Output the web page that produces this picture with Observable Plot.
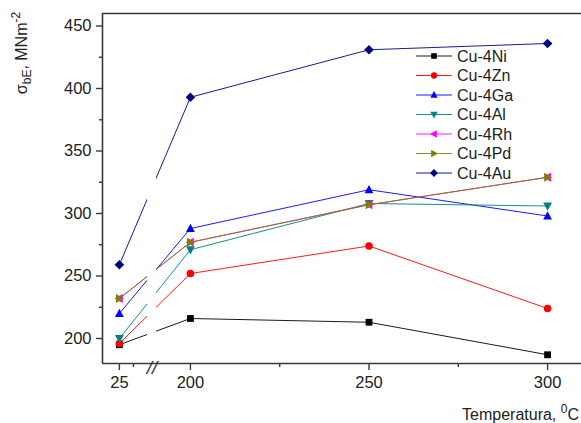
<!DOCTYPE html>
<html>
<head>
<meta charset="utf-8">
<script src="https://cdn.jsdelivr.net/npm/d3@7"></script>
<script src="https://cdn.jsdelivr.net/npm/@observablehq/plot@0.6"></script>
<style>
  html, body { margin: 0; padding: 0; background: #fff; }
  #chart { position: relative; width: 581px; height: 423px; overflow: hidden; }
  svg { font-family: "Liberation Sans", Arial, sans-serif; }
</style>
</head>
<body>
<div id="chart"></div>
<script>
// ---- data ----
const temps = [25, 200, 250, 300];
const seriesNames = ["Cu-4Ni", "Cu-4Zn", "Cu-4Ga", "Cu-4Al", "Cu-4Rh", "Cu-4Pd", "Cu-4Au"];
const seriesColors = ["#000000", "#ff0000", "#0000ff", "#008080", "#ff00ff", "#808000", "#000080"];
const cuNi = [195, 216, 213, 187];
const cuZn = [196, 252, 274, 224];
const cuGa = [220, 288, 319, 298];
const cuAl = [200, 271, 308, 306];
const cuRh = [232, 277, 307, 329];
const cuPd = [232, 277, 307, 329];
const cuAu = [259, 393, 431, 436];
const xTicks = [25, 200, 250, 300];
const xMinorTicks = [37.5, 225, 275];
const yTicks = [200, 250, 300, 350, 400, 450];
const yMinorTicks = [225, 275, 325, 375, 425];
const axisBreak = [{from: 50, to: 190.5, mid: 120}];

const seriesValues = [cuNi, cuZn, cuGa, cuAl, cuRh, cuPd, cuAu];

// ---- custom marker symbols ----
const rad = size => Math.sqrt(size / Math.PI);
const symSquare = {draw(c, size) { const s = rad(size) * 0.85; c.rect(-s, -s, 2 * s, 2 * s); }};
const symCircle = {draw(c, size) { const r = rad(size) * 0.95; c.moveTo(r, 0); c.arc(0, 0, r, 0, 2 * Math.PI); }};
const symUp = {draw(c, size) { const r = rad(size); c.moveTo(0, -r * 1.2); c.lineTo(r * 1.1, r * 0.85); c.lineTo(-r * 1.1, r * 0.85); c.closePath(); }};
const symDown = {draw(c, size) { const r = rad(size); c.moveTo(0, r * 1.2); c.lineTo(r * 1.1, -r * 0.85); c.lineTo(-r * 1.1, -r * 0.85); c.closePath(); }};
const symLeft = {draw(c, size) { const r = rad(size); c.moveTo(-r * 1.2, 0); c.lineTo(r * 0.85, r * 1.1); c.lineTo(r * 0.85, -r * 1.1); c.closePath(); }};
const symRight = {draw(c, size) { const r = rad(size); c.moveTo(r * 1.2, 0); c.lineTo(-r * 0.85, r * 1.1); c.lineTo(-r * 0.85, -r * 1.1); c.closePath(); }};
const symDiamond = {draw(c, size) { const r = rad(size) * 1.2; c.moveTo(0, -r); c.lineTo(r, 0); c.lineTo(0, r); c.lineTo(-r, 0); c.closePath(); }};
const seriesSymbols = [symSquare, symCircle, symUp, symDown, symLeft, symRight, symDiamond];

const rows = [];
seriesNames.forEach((name, i) => {
  temps.forEach((t, j) => rows.push({series: name, temp: t, value: seriesValues[i][j]}));
});

const W = 581, H = 423;
const mL = 102, mT = 13, mB = 60, mR = 0;

const marks = [];
marks.push(Plot.line(rows, {x: "temp", y: "value", z: "series", stroke: "series", strokeWidth: 0.9}));
marks.push(Plot.rect(axisBreak, {x1: "from", x2: "to", y1: 180, y2: 460, fill: "white", insetTop: 2, insetBottom: 2}));
seriesNames.forEach((name, i) => {
  marks.push(Plot.dot(rows.filter(d => d.series === name), {
    x: "temp", y: "value", fill: seriesColors[i], stroke: "none", r: 4, symbol: seriesSymbols[i]
  }));
});
// frame (left, top, bottom)
marks.push(Plot.ruleY([180, 460], {stroke: "#3a3a3a", strokeWidth: 1.6}));
marks.push(Plot.ruleX([10], {stroke: "#3a3a3a", strokeWidth: 1.6}));
// axes
marks.push(Plot.axisX({ticks: xTicks, tickSize: 7, tickPadding: 6, fontSize: 16.5, label: null, stroke: "#3a3a3a", strokeWidth: 1.4, fill: "#222"}));
marks.push(Plot.axisX({ticks: xMinorTicks, tickSize: 4, tickFormat: () => "", label: null, stroke: "#3a3a3a", strokeWidth: 1.4}));
marks.push(Plot.axisY({ticks: yTicks, tickSize: 6, tickPadding: 5, fontSize: 16.5, label: null, stroke: "#3a3a3a", strokeWidth: 1.4, fill: "#222"}));
marks.push(Plot.axisY({ticks: yMinorTicks, tickSize: 3, tickFormat: () => "", label: null, stroke: "#3a3a3a", strokeWidth: 1.4}));
// axis break marks
marks.push(Plot.text(axisBreak, {x: "mid", y: 180, text: () => "//", fontSize: 19, fill: "#333", textAnchor: "middle", lineAnchor: "middle", dy: 4, fontStyle: "italic"}));

const chart = Plot.plot({
  width: W, height: H,
  marginLeft: mL, marginTop: mT, marginBottom: mB, marginRight: mR,
  style: {fontFamily: '"Liberation Sans", Arial, sans-serif', background: "white", color: "#222"},
  x: {type: "linear", domain: [10, 50, 190.5, 309.5], range: [mL, 147, 156, W - mR], axis: null},
  y: {domain: [180, 460], axis: null},
  color: {domain: seriesNames, range: seriesColors},
  marks
});
document.getElementById("chart").appendChild(chart);

// ---- legend and axis titles (SVG overlay inside plot) ----
const svg = d3.select(chart);
const leg = svg.append("g").attr("text-anchor", "start");
seriesNames.forEach((name, i) => {
  const y = 56 + i * 19.5;
  const g = leg.append("g").attr("transform", `translate(0,${y})`);
  g.append("line").attr("x1", 416).attr("x2", 452).attr("y1", 0).attr("y2", 0)
    .attr("stroke", seriesColors[i]).attr("stroke-width", 0.9);
  g.append("path").attr("transform", "translate(434,0)")
    .attr("d", d3.symbol(seriesSymbols[i], Math.PI * 3.3 * 3.3)())
    .attr("fill", seriesColors[i]);
  g.append("text").attr("x", 457).attr("y", 0).attr("dy", "0.35em")
    .attr("text-anchor", "start")
    .attr("font-size", 16).attr("fill", "#222").text(name);
});

// y title
const yt = svg.append("text")
  .attr("transform", "translate(27,53) rotate(-90)")
  .attr("text-anchor", "middle").attr("font-size", 16).attr("fill", "#222");
yt.append("tspan").text("σ");
yt.append("tspan").attr("font-size", 12).attr("baseline-shift", "-30%").text("bE");
yt.append("tspan").text(", MNm");
yt.append("tspan").attr("font-size", 12).attr("baseline-shift", "55%").text("-2");

// x title
const xt = svg.append("text")
  .attr("x", 579).attr("y", 420)
  .attr("text-anchor", "end").attr("font-size", 16).attr("fill", "#222");
xt.append("tspan").text("Temperatura, ");
xt.append("tspan").attr("font-size", 12).attr("baseline-shift", "55%").text("0");
xt.append("tspan").text("C");
</script>
</body>
</html>
